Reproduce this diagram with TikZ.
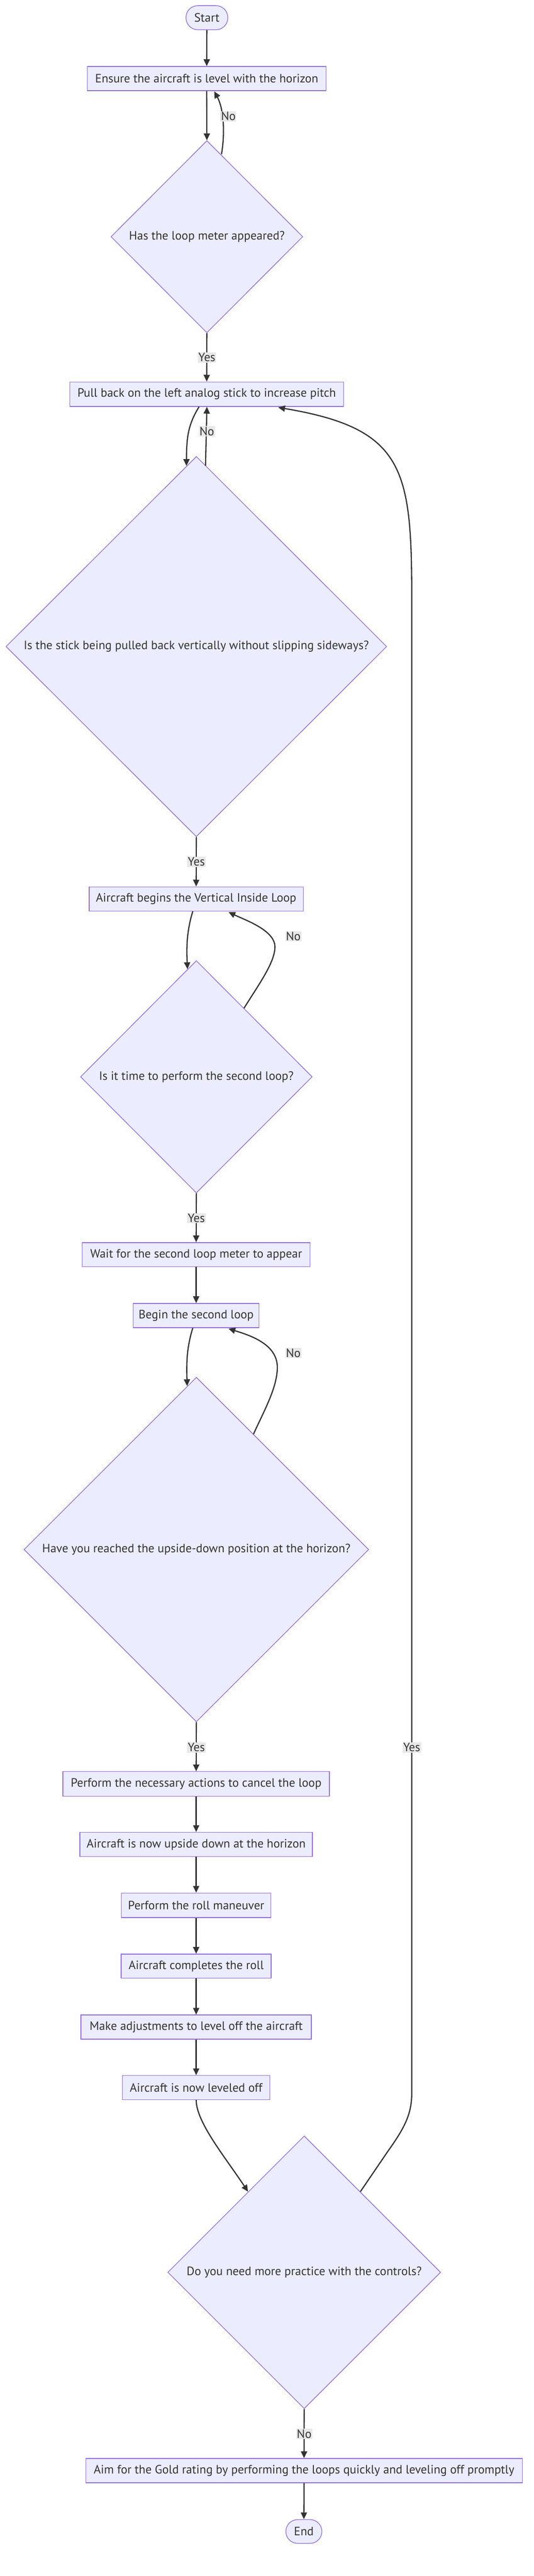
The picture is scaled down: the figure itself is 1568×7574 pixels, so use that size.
\documentclass[tikz,border=0pt]{standalone}
\usepackage{fontspec}
\setmainfont{PT Sans}
\usetikzlibrary{shapes.geometric,arrows.meta,calc}
\definecolor{nodefill}{HTML}{ECECFF}
\definecolor{nodeline}{HTML}{9370DB}
\definecolor{edgecol}{HTML}{333333}
\definecolor{labelbg}{HTML}{E8E8E8}
\begin{document}
\begin{tikzpicture}[x=1pt,y=-1pt,
  font=\fontsize{35.6}{42}\selectfont,
  every node/.style={text=edgecol},
  proc/.style={draw=nodeline, fill=nodefill, line width=2pt, rectangle, inner sep=0pt, minimum height=71pt},
  term/.style={proc, rounded corners=35pt},
  decision/.style={draw=nodeline, fill=nodefill, line width=2pt, diamond, inner sep=0pt},
  edge/.style={draw=edgecol, line width=3.5pt, -{Triangle[length=20pt,width=18pt]}},
  elabel/.style={fill=labelbg, inner sep=2pt, text=edgecol},
]
\path[use as bounding box, fill=white] (0,0) rectangle (1568,7574);

% nodes
\node[term, minimum width=123pt] (start) at (608,52) {Start};
\node[proc, minimum width=701pt] (ensure) at (607.5,231) {Ensure the aircraft is level with the horizon};
\node[decision, minimum width=564pt, minimum height=565pt] (d1) at (608,696) {};
\node (d1t) at (d1.center) {Has the loop meter appeared?};
\node[proc, minimum width=805pt, minimum height=72pt] (pull) at (607.5,1159) {Pull back on the left analog stick to increase pitch};
\node[decision, minimum width=1119pt, minimum height=1118pt] (d2) at (577,1901) {};
\node (d2t) at (d2.center) {Is the stick being pulled back vertically without slipping sideways?};
\node[proc, minimum width=629pt] (begins) at (576.5,2643) {Aircraft begins the Vertical Inside Loop};
\node[decision, minimum width=681pt, minimum height=683pt] (d3) at (577,3166) {};
\node (d3t) at (d3.center) {Is it time to perform the second loop?};
\node[proc, minimum width=669pt] (wait) at (576.5,3689) {Wait for the second loop meter to appear};
\node[proc, minimum width=369pt] (begin2) at (576.5,3868) {Begin the second loop};
\node[decision, minimum width=1013pt, minimum height=1013pt] (d4) at (577,4556) {};
\node (d4t) at (d4.center) {Have you reached the upside-down position at the horizon?};
\node[proc, minimum width=783pt, minimum height=72pt] (cancel) at (576.5,5245) {Perform the necessary actions to cancel the loop};
\node[proc, minimum width=683pt] (upside) at (576.5,5423) {Aircraft is now upside down at the horizon};
\node[proc, minimum width=439pt, minimum height=72pt] (roll) at (576.5,5602) {Perform the roll maneuver};
\node[proc, minimum width=441pt] (completes) at (576.5,5781) {Aircraft completes the roll};
\node[proc, minimum width=677pt] (adjust) at (576.5,5960) {Make adjustments to level off the aircraft};
\node[proc, minimum width=433pt] (leveled) at (576.5,6138) {Aircraft is now leveled off};
\node[decision, minimum width=802pt, minimum height=802pt] (d5) at (894,6681) {};
\node (d5t) at (d5.center) {Do you need more practice with the controls?};
\node[proc, minimum width=1283pt] (aim) at (893.5,7264) {Aim for the Gold rating by performing the loops quickly and leveling off promptly};
\node[term, minimum width=106pt, minimum height=70pt] (end) at (893,7443) {End};

% edges
\draw[edge] (start.south) -- (ensure.north);
\draw[edge] (ensure.south) -- (d1.north);
\draw[edge] ($(d1.north)+(43,41)$) .. controls (663,380) and (655,315) .. ($(ensure.south)+(22,1)$);
\draw[edge] (d1.south) -- (pull.north);
\draw[edge] ($(pull.south)+(-22.5,0)$) .. controls (555,1245) and (548,1280) .. ($(d2.north)+(-29,29)$);
\draw[edge] ($(d2.north)+(27,28)$) -- ($(pull.south)+(0.5,0)$);
\draw[edge] (d2.south) -- (begins.north);
\draw[edge] ($(begins.south)+(-10,0)$) .. controls (548,2740) and (548,2790) .. ($(d3.north)+(-26,26)$);
\draw[edge] ($(d3.north)+(140,141)$) .. controls (760,2895) and (808,2830) .. (808,2784) .. controls (808,2735) and (720,2705) .. ($(begins.south)+(95,2)$);
\draw[edge] (d3.south) -- (wait.north);
\draw[edge] (wait.south) -- (begin2.north);
\draw[edge] ($(begin2.south)+(-10,0)$) .. controls (548,3965) and (548,4010) .. ($(d4.north)+(-27,27)$);
\draw[edge] ($(d4.north)+(168,168)$) .. controls (775,4150) and (815,4080) .. (815,4020) .. controls (815,3950) and (730,3925) .. ($(begin2.south)+(95,2)$);
\draw[edge] (d4.south) -- (cancel.north);
\draw[edge] (cancel.south) -- (upside.north);
\draw[edge] (upside.south) -- (roll.north);
\draw[edge] (roll.south) -- (completes.north);
\draw[edge] (completes.south) -- (adjust.north);
\draw[edge] (adjust.south) -- (leveled.north);
\draw[edge] (leveled.south) .. controls (577,6240) and (660,6340) .. ($(d5.north)+(-165,165)$);
\draw[edge] ($(d5.north)+(165,165)$) -- (1140,6325) .. controls (1190,6255) and (1210,6215) .. (1210,6154) -- (1210,1763) .. controls (1210,1380) and (1190,1260) .. ($(pull.south)+(210,2)$);
\draw[edge] (d5.south) -- (aim.north);
\draw[edge] (aim.south) -- (end.north);

% edge labels
\node[elabel] (l1) at (671,342) {No};
\node[elabel] (l2) at (608,1051) {Yes};
\node[elabel] (l3) at (608,1268) {No};
\node[elabel] (l4) at (577,2534) {Yes};
\node[elabel] (l5) at (862,2753) {No};
\node[elabel] (l6) at (577,3582) {Yes};
\node[elabel] (l7) at (862,3978) {No};
\node[elabel] (l8) at (577,5138) {Yes};
\node[elabel] (l9) at (1210,5138) {Yes};
\node[elabel] (l10) at (894,7156) {No};
\end{tikzpicture}
\end{document}
